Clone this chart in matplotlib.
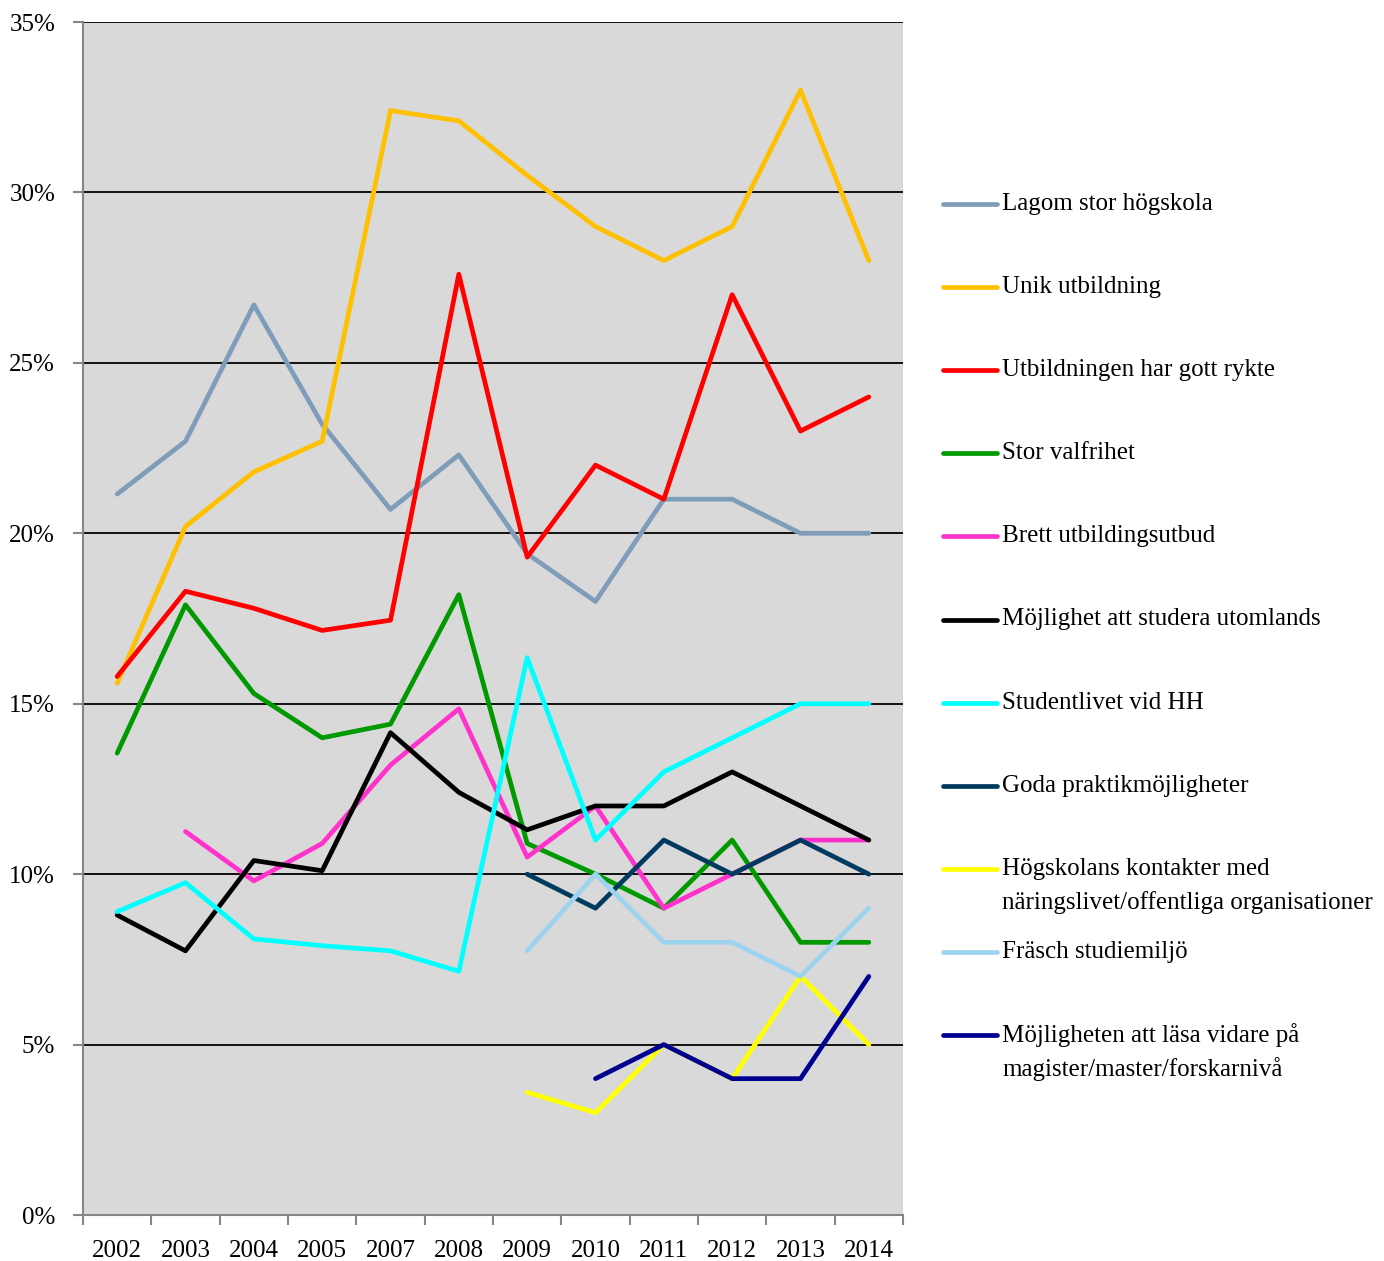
import matplotlib.pyplot as plt
import numpy as np
from matplotlib.lines import Line2D
from matplotlib.ticker import FixedLocator, FuncFormatter

plt.rcParams['font.family'] = ['Liberation Serif', 'DejaVu Serif']

years = ["2002", "2003", "2004", "2005", "2007", "2008", "2009", "2010", "2011", "2012", "2013", "2014"]
nan = np.nan

lagom = [21.15, 22.7, 26.7, 23.2, 20.7, 22.3, 19.4, 18.0, 21, 21, 20, 20]
unik = [15.6, 20.2, 21.8, 22.7, 32.4, 32.1, 30.5, 29.0, 28, 29, 33, 28]
rykte = [15.8, 18.3, 17.8, 17.15, 17.45, 27.6, 19.3, 22, 21, 27, 23, 24]
valfrihet = [13.55, 17.9, 15.3, 14.0, 14.4, 18.2, 10.9, 10, 9, 11, 8, 8]
brett = [nan, 11.25, 9.8, 10.9, 13.2, 14.85, 10.5, 12, 9, 10, 11, 11]
utomlands = [8.8, 7.75, 10.4, 10.1, 14.15, 12.4, 11.3, 12, 12, 13, 12, 11]
studentliv = [8.9, 9.75, 8.1, 7.9, 7.75, 7.15, 16.35, 11, 13, 14, 15, 15]
praktik = [nan, nan, nan, nan, nan, nan, 10, 9, 11, 10, 11, 10]
kontakter = [nan, nan, nan, nan, nan, nan, 3.6, 3.0, 5, 4, 7, 5]
frasch = [nan, nan, nan, nan, nan, nan, 7.75, 10, 8, 8, 7, 9]
vidare = [nan, nan, nan, nan, nan, nan, nan, 4, 5, 4, 4, 7]

series = [
    (["Lagom stor högskola"], lagom, "#7F9DB9"),
    (["Unik utbildning"], unik, "#FFC000"),
    (["Utbildningen har gott rykte"], rykte, "#FF0000"),
    (["Stor valfrihet"], valfrihet, "#009900"),
    (["Brett utbildingsutbud"], brett, "#FF33CC"),
    (["Möjlighet att studera utomlands"], utomlands, "#000000"),
    (["Studentlivet vid HH"], studentliv, "#00FFFF"),
    (["Goda praktikmöjligheter"], praktik, "#003A5E"),
    (["Högskolans kontakter med", "näringslivet/offentliga organisationer"], kontakter, "#FFFF00"),
    (["Fräsch studiemiljö"], frasch, "#9DD3EE"),
    (["Möjligheten att läsa vidare på", "magister/master/forskarnivå"], vidare, "#000090"),
]

W, H = 1384, 1261
fig = plt.figure(figsize=(W / 100, H / 100), dpi=100)
ax = fig.add_axes([83 / W, 1 - 1215 / H, (903 - 83) / W, (1215 - 22) / H])
ax.set_facecolor("#D9D9D9")

x = np.arange(len(years))
for lab, vals, col in series:
    ax.plot(x, vals, color=col, lw=3.4, solid_capstyle='round', solid_joinstyle='round', zorder=3)

ax.set_xlim(-0.5, len(years) - 0.5)
ax.set_ylim(0, 35)
ax.set_yticks(np.arange(0, 36, 5))
ax.yaxis.set_major_formatter(FuncFormatter(lambda v, p: f"{int(v)}%"))
ax.grid(axis='y', color='black', lw=1.3, zorder=1)
ax.set_axisbelow(True)

ax.xaxis.set_major_locator(FixedLocator(np.arange(-0.5, len(years), 1)))
ax.xaxis.set_minor_locator(FixedLocator(x))
ax.set_xticklabels([], minor=False)
ax.set_xticklabels(years, minor=True)
ax.tick_params(axis='x', which='major', length=7, width=1.5, color='#868686', direction='out')
ax.tick_params(axis='x', which='minor', length=0, pad=18, labelsize=18)
ax.tick_params(axis='y', length=7, width=1.5, color='#868686', direction='out', pad=13, labelsize=18)

for s in ['top', 'right']:
    ax.spines[s].set_visible(False)
for s in ['left', 'bottom']:
    ax.spines[s].set_color('#868686')
    ax.spines[s].set_linewidth(1.5)

# legend drawn by hand so that every entry sits at the same spacing
for i, (lab, vals, col) in enumerate(series):
    yp = 204 + 83.1 * i
    fig.add_artist(Line2D([943 / W, 997 / W], [1 - yp / H, 1 - yp / H],
                          color=col, lw=3.4, solid_capstyle='round', transform=fig.transFigure))
    for j, line in enumerate(lab):
        fig.text(1002 / W, 1 - (yp + 34 * j) / H, line, fontsize=18, va='center', ha='left')

fig.savefig("out.png", dpi=100)
